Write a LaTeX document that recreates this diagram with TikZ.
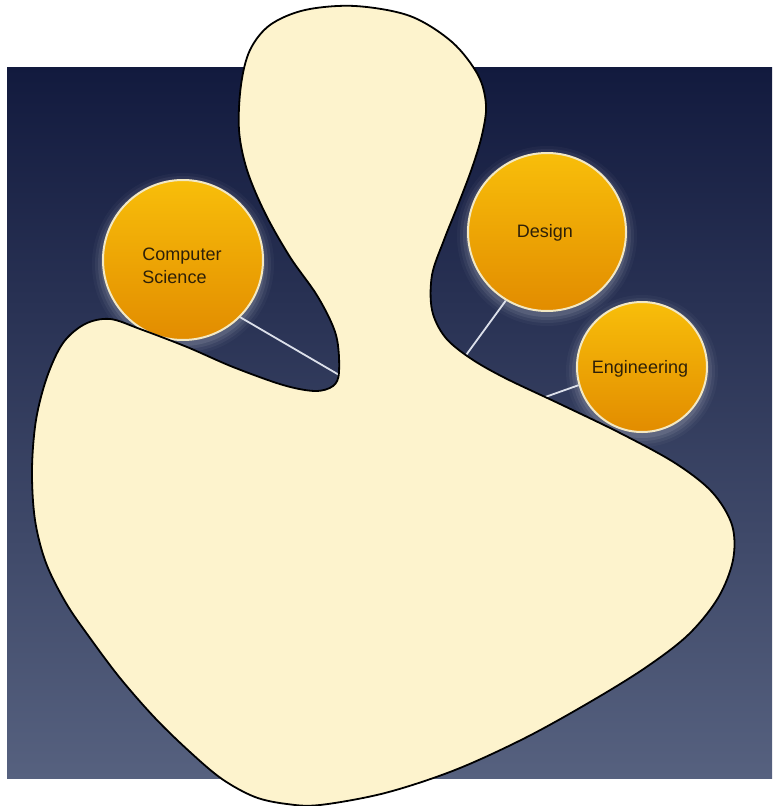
\documentclass[tikz,border=0pt]{standalone}
\usepackage{fontspec}
\setmainfont{Liberation Sans}
\definecolor{bgtop}{HTML}{121A3E}
\definecolor{bgbot}{HTML}{56617F}
\definecolor{blobfill}{HTML}{FDF3CD}
\definecolor{orbtop}{HTML}{F8BE0A}
\definecolor{orbbot}{HTML}{E28C00}
\definecolor{orbrim}{HTML}{F2E8C4}
\definecolor{orbtext}{HTML}{2E2008}
\definecolor{connc}{HTML}{DCE0EA}
\tikzset{
  bubble/.style={circle, draw=orbrim, line width=2pt, top color=orbtop, bottom color=orbbot, inner sep=0pt},
  bubbletext/.style={text=orbtext, font=\fontsize{18}{23}\selectfont, inner sep=0pt},
  conn/.style={draw=connc, line width=1.8pt},
  blob/.style={draw=black, line width=1.8pt, fill=blobfill},
  glowc/.style={fill=white}
}
\begin{document}
\begin{tikzpicture}[x=1pt,y=-1pt]
\useasboundingbox (0,0) rectangle (772,806);
% background panel
\shade[top color=bgtop, bottom color=bgbot] (7,67) rectangle (772,778);
% glows
\foreach \cx/\cy/\r in {183/262/80, 547/234/79, 642/369/65}{
  \foreach \d/\o in {11/0.03, 8/0.05, 5/0.07, 2/0.09}{
    \fill[glowc, opacity=\o] (\cx,\cy+2) circle[radius=\r+\d];
  }
}
% bubbles
\node[bubble, minimum size=160pt] (cs) at (183,260) {};
\node[bubble, minimum size=158pt] (design) at (547,232) {};
\node[bubble, minimum size=130pt] (eng) at (642,367) {};
\node[bubbletext, align=left] (cstext) at (182,266) {Computer\\Science};
\node[bubbletext] (designtext) at (545,233) {Design};
\node[bubbletext] (engtext) at (640,369) {Engineering};
% connector ends (under the blob)
\coordinate (csend) at (346,379);
\coordinate (designend) at (461,362);
\coordinate (engend) at (534,401);
\draw[conn] (cs.-45) -- (csend);
\draw[conn] (design.239) -- (designend);
\draw[conn] (eng.196) -- (engend);
% blob
\draw[blob] plot[smooth cycle, tension=0.55] coordinates {
 (355,6) (410,16) (452,42) (478,75) (486,105) (482,135) (472,168) (458,205)
 (444,240) (432,275) (432,310) (445,337) (470,358) (505,378) (560,404)
 (620,433) (675,463) (712,492) (732,525) (733,560) (718,598) (688,635)
 (645,668) (590,702) (525,738) (455,770) (385,793) (320,805) (287,804)
 (255,797) (222,779) (190,752) (155,718) (120,678) (90,638) (66,603)
 (46,563) (35,520) (32,470) (36,420) (47,377) (63,343) (85,324) (110,319)
 (140,329) (187,347) (233,367) (283,385) (315,391)
 (333,386) (339,372) (336,335) (318,297) (290,257) (265,213) (247,170)
 (239,130) (241,85) (250,50) (270,25) (305,10)
};
\end{tikzpicture}
\end{document}
